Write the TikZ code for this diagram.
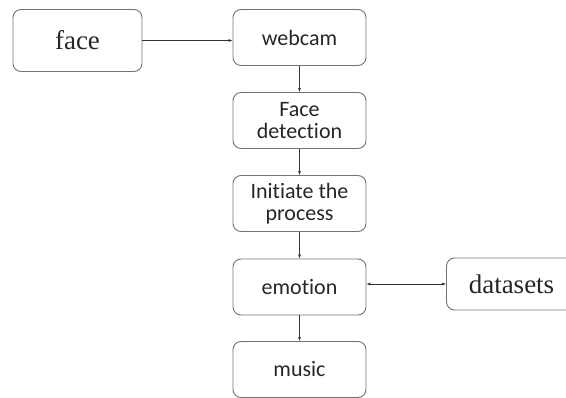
\documentclass[tikz,border=0pt]{standalone}
\usepackage{fontspec}
\setmainfont{Liberation Serif}
\newfontfamily\boxfont[Ligatures=NoCommon]{Carlito}
\usetikzlibrary{arrows.meta}

\tikzset{
    stage/.style={draw=black!55, line width=0.9pt, rounded corners=8pt,
        minimum width=133pt, minimum height=56pt, align=center,
        text=black!85, font=\boxfont\fontsize{22}{22}\selectfont},
    outer/.style={stage, font=\fontsize{27}{30}\selectfont},
    link/.style={draw=black!80, line width=0.6pt, -{Latex[length=4pt,width=3pt]}}
}

\begin{document}
\begin{tikzpicture}[x=1pt, y=-1pt]
    \useasboundingbox (0,0) rectangle (566,398);
    \node[outer, minimum width=129pt, minimum height=62pt] (face) at (77.5,40.5) {face};
    \node[stage] (webcam) at (299.5,37.5) {webcam};
    \node[stage] (detect) at (299.5,120.5) {Face\\detection};
    \node[stage] (init) at (299.5,203.5) {Initiate the\\process};
    \node[stage] (emotion) at (299.5,287) {emotion};
    \node[stage] (music) at (299.5,369.5) {music};
    \node[outer, minimum width=130pt, minimum height=52pt] (data) at (511.5,284) {datasets};

    \draw[link] (face) -- (face -| webcam.west);
    \draw[link] (webcam) -- (detect);
    \draw[link] (detect) -- (init);
    \draw[link] (init) -- (emotion);
    \draw[link] (emotion) -- (music);
    \draw[link, {Latex[length=4pt,width=3pt]}-{Latex[length=4pt,width=3pt]}] (emotion.east |- data) -- (data);
\end{tikzpicture}
\end{document}
